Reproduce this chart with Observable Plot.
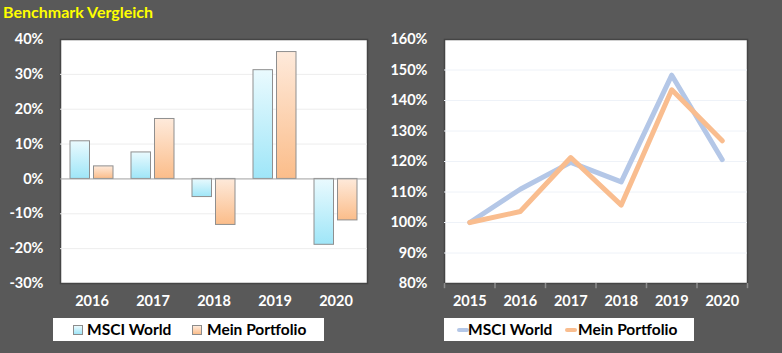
<!DOCTYPE html>
<html>
<head>
<meta charset="utf-8">
<script src="https://cdn.jsdelivr.net/npm/d3@7"></script>
<script src="https://cdn.jsdelivr.net/npm/@observablehq/plot@0.6"></script>
<style>
  html, body { margin: 0; padding: 0; background: #595959; }
  #wrap { position: relative; width: 782px; height: 353px; background: #595959; overflow: hidden; font-family: Lato, "Open Sans", sans-serif; }
  #title { position: absolute; left: 3px; top: 2px; line-height: 20px; color: #ffff00; font-weight: bold; font-size: 16px; white-space: nowrap; }
  .panel { position: absolute; top: 0; }
  .panel svg { overflow: visible; }
  .legend { position: absolute; top: 318px; height: 23px; background: #ffffff; font-weight: bold; font-size: 15.5px; color: #000; }
  .legend .item { position: absolute; top: 0; height: 23px; line-height: 23px; white-space: nowrap; }
  .legend .sq { position: absolute; top: 6.5px; width: 10px; height: 10px; border: 1px solid #8c8c8c; box-sizing: border-box; }
  .legend .ln { position: absolute; top: 10px; width: 12px; height: 4px; border-radius: 2px; }
</style>
</head>
<body>
<div id="wrap">
  <div id="title">Benchmark Vergleich</div>
  <div class="panel" id="left" style="left:0px"></div>
  <div class="panel" id="right" style="left:390px"></div>
  <div class="legend" id="legL" style="left:53px;width:271px"></div>
  <div class="legend" id="legR" style="left:444px;width:250px"></div>
</div>
<script>
// ---------- data ----------
const seriesNames = ["MSCI World", "Mein Portfolio"];
const returnYears = ["2016", "2017", "2018", "2019", "2020"];
const msciReturn = [10.8, 7.6, -5.2, 31.2, -18.9];
const portfolioReturn = [3.6, 17.2, -13.2, 36.4, -11.9];
const indexYears = [2015, 2016, 2017, 2018, 2019, 2020];
const msciIndex = [100, 110.9, 119.7, 113.3, 148.3, 120.6];
const portfolioIndex = [100, 103.6, 121.3, 105.7, 143.5, 126.8];
const returnTicks = [-30, -20, -10, 0, 10, 20, 30, 40];
const indexTicks = [80, 90, 100, 110, 120, 130, 140, 150, 160];

const colors = {
  blueTop: "#eafafe", blueBottom: "#9fe6f8",
  orangeTop: "#feeadb", orangeBottom: "#fbbd8a",
  lineBlue: "#b4c7e7", lineOrange: "#f9bd8f"
};

function addGradients(svg) {
  const defs = d3.select(svg).insert("defs", ":first-child");
  const mk = (id, c1, c2) => {
    const g = defs.append("linearGradient").attr("id", id).attr("x1", 0).attr("y1", 0).attr("x2", 0).attr("y2", 1);
    g.append("stop").attr("offset", "0%").attr("stop-color", c1);
    g.append("stop").attr("offset", "100%").attr("stop-color", c2);
  };
  mk("gBlue", colors.blueTop, colors.blueBottom);
  mk("gOrange", colors.orangeTop, colors.orangeBottom);
}

const baseStyle = { background: "transparent", color: "#ffffff", fontFamily: "Lato, 'Open Sans', sans-serif", fontSize: "14.5px", fontWeight: "bold", overflow: "visible" };

// ---------- left: annual returns ----------
const barData = returnYears.map((y, i) => ({ year: y, msci: msciReturn[i], pf: portfolioReturn[i] }));
const left = Plot.plot({
  width: 390, height: 318,
  marginLeft: 60, marginRight: 23, marginTop: 39, marginBottom: 35,
  style: baseStyle,
  x: { type: "band", domain: returnYears, paddingInner: 0.3, paddingOuter: 0.15, axis: null },
  y: { domain: [-30, 40], ticks: returnTicks, tickFormat: d => d + "%", tickSize: 0, tickPadding: 17, label: null },
  marks: [
    Plot.frame({ fill: "#ffffff", stroke: "#454545", strokeWidth: 1.5 }),
    Plot.ruleY(returnTicks.filter(d => d !== 0 && d !== -30 && d !== 40), { stroke: "#ededed" }),
    Plot.barY(barData, { x: "year", y: "msci", fill: "url(#gBlue)", stroke: "#8f8f8f", insetRight: 23.5 }),
    Plot.barY(barData, { x: "year", y: "pf", fill: "url(#gOrange)", stroke: "#8f8f8f", insetLeft: 23.5 }),
    Plot.ruleY([0], { stroke: "#a0a0a0" }),
    Plot.text(returnYears, { x: d => d, frameAnchor: "bottom", dy: 22, text: d => d, fill: "#ffffff", fontWeight: "bold", fontSize: 14.5 })
  ]
});
addGradients(left);
document.getElementById("left").appendChild(left);

// ---------- right: cumulative index ----------
const msciLine = indexYears.map((y, i) => ({ year: y, v: msciIndex[i] }));
const pfLine = indexYears.map((y, i) => ({ year: y, v: portfolioIndex[i] }));
const boundaries = indexYears.map(y => y - 0.5).concat([indexYears[indexYears.length - 1] + 0.5]);
const right = Plot.plot({
  width: 392, height: 318,
  marginLeft: 54, marginRight: 35, marginTop: 39, marginBottom: 35,
  style: baseStyle,
  x: { domain: [boundaries[0], boundaries[boundaries.length - 1]], axis: null },
  y: { domain: [80, 160], ticks: indexTicks, tickFormat: d => d + "%", tickSize: 0, tickPadding: 17, label: null },
  marks: [
    Plot.frame({ fill: "#ffffff", stroke: "#454545", strokeWidth: 1.5 }),
    Plot.ruleY(indexTicks.filter(d => d !== 80 && d !== 160), { stroke: "#eef2f8" }),
    Plot.ruleX(boundaries, { x: d => d, y1: 80, y2: 78.3, stroke: "#8c8c8c", strokeWidth: 1.5 }),
    Plot.lineY(msciLine, { x: "year", y: "v", stroke: colors.lineBlue, strokeWidth: 5, strokeLinejoin: "round", strokeLinecap: "round" }),
    Plot.lineY(pfLine, { x: "year", y: "v", stroke: colors.lineOrange, strokeWidth: 5, strokeLinejoin: "round", strokeLinecap: "round" }),
    Plot.text(indexYears, { x: d => d, frameAnchor: "bottom", dy: 22, text: d => String(d), fill: "#ffffff", fontWeight: "bold", fontSize: 14.5 })
  ]
});
document.getElementById("right").appendChild(right);

// ---------- legends ----------
const legL = document.getElementById("legL");
legL.innerHTML =
  `<span class="sq" style="left:20px;background:linear-gradient(${colors.blueTop},${colors.blueBottom})"></span>` +
  `<span class="item" style="left:34px">${seriesNames[0]}</span>` +
  `<span class="sq" style="left:139px;background:linear-gradient(${colors.orangeTop},${colors.orangeBottom})"></span>` +
  `<span class="item" style="left:154px">${seriesNames[1]}</span>`;
const legR = document.getElementById("legR");
legR.innerHTML =
  `<span class="ln" style="left:13px;background:${colors.lineBlue}"></span>` +
  `<span class="item" style="left:24px">${seriesNames[0]}</span>` +
  `<span class="ln" style="left:121px;background:${colors.lineOrange}"></span>` +
  `<span class="item" style="left:134px">${seriesNames[1]}</span>`;
</script>
</body>
</html>
